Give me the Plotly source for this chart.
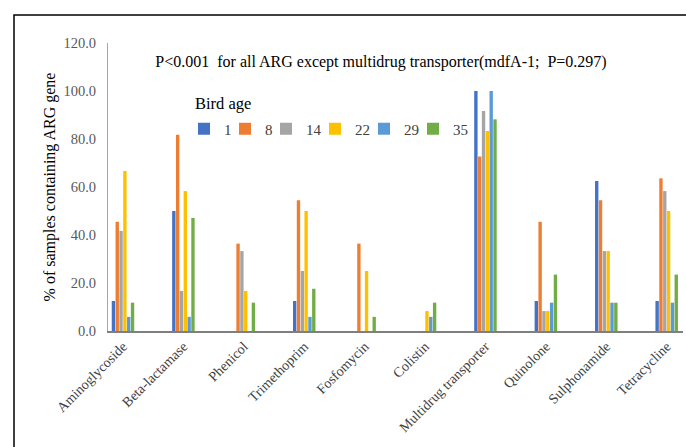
import plotly.graph_objects as go

categories = ["Aminoglycoside", "Beta-lactamase", "Phenicol", "Trimethoprim", "Fosfomycin",
              "Colistin", "Multidrug transporter", "Quinolone", "Sulphonamide", "Tetracycline"]
ages = ["1", "8", "14", "22", "29", "35"]
age_1 = [12.5, 50.0, 0.0, 12.5, 0.0, 0.0, 100.0, 12.5, 62.5, 12.5]
age_8 = [45.5, 81.8, 36.4, 54.5, 36.4, 0.0, 72.7, 45.5, 54.5, 63.6]
age_14 = [41.7, 16.7, 33.3, 25.0, 0.0, 0.0, 91.7, 8.3, 33.3, 58.3]
age_22 = [66.7, 58.3, 16.7, 50.0, 25.0, 8.3, 83.3, 8.3, 33.3, 50.0]
age_29 = [5.9, 5.9, 0.0, 5.9, 0.0, 5.9, 100.0, 11.8, 11.8, 11.8]
age_35 = [11.8, 47.1, 11.8, 17.6, 5.9, 11.8, 88.2, 23.5, 11.8, 23.5]
series = [age_1, age_8, age_14, age_22, age_29, age_35]
colors = ["#4472C4", "#ED7D31", "#A5A5A5", "#FFC000", "#5B9BD5", "#70AD47"]

FONT = "Liberation Serif"
W, H = 686, 447
L, R, T, B = 108, 3, 43, 116
PW, PH = W - L - R, H - T - B

# legend entry symbol left edges (px) — layout only
legend_px = [198, 239, 280, 329, 378, 427]
legend_y_px = 129

def px_x(p):
    return (p - L) / PW

def px_y(p):
    return (H - B - p) / PH

idx = list(range(len(categories)))
fig = go.Figure()
legend_layouts = {}
for i, (name, vals, col) in enumerate(zip(ages, series, colors)):
    key = "legend" if i == 0 else f"legend{i + 1}"
    fig.add_trace(go.Bar(x=idx, y=vals, name=name, legend=key, showlegend=True,
                         marker=dict(color=col, line=dict(width=0))))
    legend_layouts[key] = dict(
        x=px_x(legend_px[i] - 14), xanchor="left", y=px_y(legend_y_px), yanchor="middle",
        bgcolor="rgba(0,0,0,0)", borderwidth=0, visible=True,
        font=dict(family=FONT, size=15, color="#404040"))

fig.update_layout(
    width=W, height=H,
    margin=dict(l=L, r=R, t=T, b=B),
    showlegend=True,
    paper_bgcolor="white", plot_bgcolor="white",
    barmode="group", bargap=0.62, bargroupgap=0.12,
    font=dict(family=FONT, size=13, color="#404040"),
    title=dict(text="P<0.001\u00a0 for all ARG except multidrug transporter(mdfA-1;\u00a0 P=0.297)",
               x=381 / W, xanchor="center", y=1 - 61 / H, yanchor="middle",
               font=dict(family=FONT, size=16, color="#000000")),
    xaxis=dict(tickmode="array", tickvals=idx, ticktext=categories, tickangle=-45,
               range=[-0.248, 9.27], showline=True, linecolor="#7f7f7f", linewidth=1.5,
               showgrid=False, zeroline=False, ticks="",
               tickfont=dict(family=FONT, size=14, color="#404040")),
    yaxis=dict(range=[0, 120], dtick=20, tickformat=".1f", showline=True, linecolor="#a6a6a6",
               linewidth=1, showgrid=False, zeroline=False, ticks="", ticklabelstandoff=8,
               tickfont=dict(family=FONT, size=14.5, color="#595959"),
               title=dict(text="% of samples containing ARG gene", standoff=3,
                          font=dict(family=FONT, size=16, color="#000000"))),
    annotations=[dict(text="Bird age", xref="paper", yref="paper", x=px_x(193), y=px_y(103),
                      xanchor="left", yanchor="middle", showarrow=False,
                      font=dict(family=FONT, size=16.5, color="#000000"))],
    shapes=[dict(type="rect", xref="paper", yref="paper",
                 x0=px_x(14), x1=1.05, y0=-0.5, y1=px_y(15),
                 line=dict(color="#000000", width=1.5), fillcolor="rgba(0,0,0,0)", layer="below")],
    **legend_layouts,
)

fig.write_html("out.html", config={"displayModeBar": False},
               post_script="document.body.style.margin='0px';")
